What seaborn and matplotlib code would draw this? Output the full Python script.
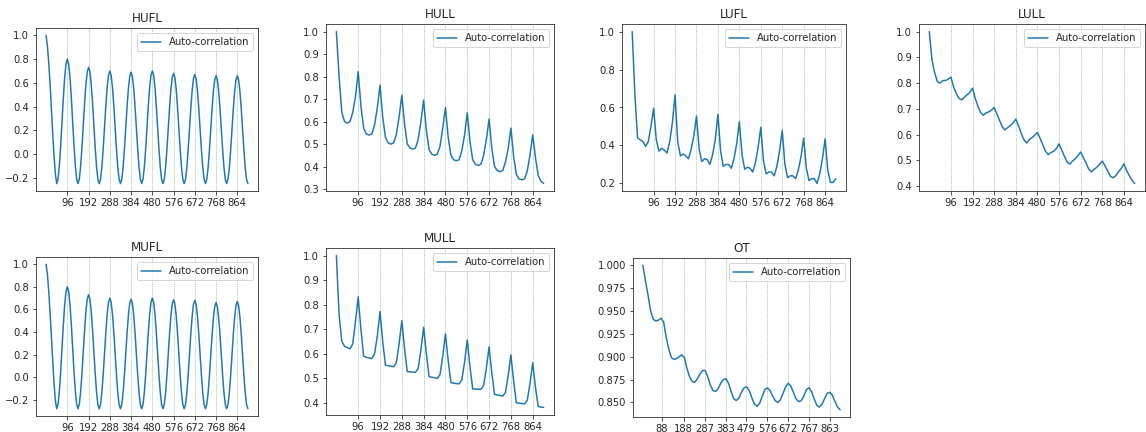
import matplotlib
matplotlib.use("Agg")
import matplotlib.pyplot as plt
from matplotlib.ticker import MultipleLocator
import numpy as np
import seaborn as sns

# auto-correlation values
# HUFL / MUFL: one value every 6 lags (0..912), the rest every 12 lags (0..912)

hufl = [1.00, 0.91, 0.77, 0.59, 0.38, 0.17, -0.02, -0.17, -0.25,
        -0.21, -0.096, 0.074, 0.275, 0.476, 0.646, 0.76, 0.80,
        0.76, 0.646, 0.476, 0.275, 0.074, -0.096, -0.21, -0.25,
        -0.213, -0.106, 0.052, 0.24, 0.428, 0.586, 0.693, 0.73,
        0.693, 0.586, 0.428, 0.24, 0.052, -0.106, -0.213, -0.25,
        -0.214, -0.111, 0.043, 0.225, 0.407, 0.561, 0.664, 0.70,
        0.664, 0.561, 0.407, 0.225, 0.043, -0.111, -0.214, -0.25,
        -0.214, -0.112, 0.04, 0.22, 0.40, 0.552, 0.654, 0.69,
        0.654, 0.552, 0.40, 0.22, 0.04, -0.112, -0.214, -0.25,
        -0.214, -0.111, 0.043, 0.225, 0.407, 0.561, 0.664, 0.70,
        0.664, 0.561, 0.407, 0.225, 0.043, -0.111, -0.214, -0.25,
        -0.215, -0.114, 0.037, 0.215, 0.393, 0.544, 0.645, 0.68,
        0.645, 0.544, 0.393, 0.215, 0.037, -0.114, -0.215, -0.25,
        -0.215, -0.115, 0.034, 0.21, 0.386, 0.535, 0.635, 0.67,
        0.635, 0.535, 0.386, 0.21, 0.034, -0.115, -0.215, -0.25,
        -0.215, -0.117, 0.031, 0.205, 0.379, 0.527, 0.625, 0.66,
        0.625, 0.527, 0.379, 0.205, 0.031, -0.117, -0.215, -0.25,
        -0.215, -0.117, 0.031, 0.205, 0.379, 0.527, 0.625, 0.66,
        0.625, 0.527, 0.379, 0.205, 0.031, -0.117, -0.215, -0.25]

mufl = [1.00, 0.91, 0.76, 0.57, 0.36, 0.14, -0.06, -0.21, -0.28,
        -0.239, -0.122, 0.053, 0.26, 0.467, 0.642, 0.759, 0.80,
        0.759, 0.642, 0.467, 0.26, 0.053, -0.122, -0.239, -0.28,
        -0.242, -0.132, 0.032, 0.225, 0.418, 0.582, 0.692, 0.73,
        0.692, 0.582, 0.418, 0.225, 0.032, -0.132, -0.242, -0.28,
        -0.243, -0.136, 0.022, 0.21, 0.398, 0.556, 0.663, 0.70,
        0.663, 0.556, 0.398, 0.21, 0.022, -0.136, -0.243, -0.28,
        -0.243, -0.138, 0.019, 0.205, 0.391, 0.548, 0.653, 0.69,
        0.653, 0.548, 0.391, 0.205, 0.019, -0.138, -0.243, -0.28,
        -0.243, -0.136, 0.022, 0.21, 0.398, 0.556, 0.663, 0.70,
        0.663, 0.556, 0.398, 0.21, 0.022, -0.136, -0.243, -0.28,
        -0.243, -0.139, 0.018, 0.203, 0.387, 0.544, 0.648, 0.685,
        0.648, 0.544, 0.387, 0.203, 0.018, -0.139, -0.243, -0.28,
        -0.244, -0.139, 0.016, 0.20, 0.384, 0.539, 0.644, 0.68,
        0.644, 0.539, 0.384, 0.20, 0.016, -0.139, -0.244, -0.28,
        -0.244, -0.142, 0.01, 0.19, 0.37, 0.522, 0.624, 0.66,
        0.624, 0.522, 0.37, 0.19, 0.01, -0.142, -0.244, -0.28,
        -0.244, -0.141, 0.013, 0.195, 0.377, 0.531, 0.634, 0.67,
        0.634, 0.531, 0.377, 0.195, 0.013, -0.141, -0.244, -0.28]

hull = [1.00, 0.80, 0.64, 0.60, 0.593, 0.60, 0.64, 0.71,
        0.822, 0.67, 0.57, 0.545, 0.54, 0.545, 0.585, 0.66,
        0.762, 0.62, 0.53, 0.505, 0.50, 0.505, 0.543, 0.62,
        0.717, 0.59, 0.50, 0.482, 0.478, 0.482, 0.52, 0.60,
        0.695, 0.56, 0.475, 0.455, 0.45, 0.455, 0.49, 0.57,
        0.662, 0.53, 0.45, 0.43, 0.426, 0.43, 0.47, 0.54,
        0.639, 0.51, 0.43, 0.41, 0.405, 0.41, 0.45, 0.52,
        0.611, 0.48, 0.40, 0.382, 0.377, 0.382, 0.42, 0.48,
        0.571, 0.445, 0.364, 0.345, 0.341, 0.345, 0.381, 0.451,
        0.541, 0.44, 0.36, 0.335, 0.325]

lufl = [1.00, 0.67, 0.44, 0.43, 0.42, 0.395, 0.42, 0.50,
        0.596, 0.43, 0.37, 0.385, 0.375, 0.36, 0.42, 0.52,
        0.666, 0.42, 0.345, 0.355, 0.345, 0.33, 0.38, 0.45,
        0.555, 0.38, 0.315, 0.33, 0.325, 0.30, 0.35, 0.43,
        0.564, 0.37, 0.29, 0.30, 0.30, 0.28, 0.33, 0.41,
        0.525, 0.35, 0.275, 0.285, 0.28, 0.26, 0.31, 0.39,
        0.496, 0.32, 0.25, 0.26, 0.26, 0.24, 0.29, 0.37,
        0.479, 0.30, 0.23, 0.24, 0.24, 0.225, 0.27, 0.34,
        0.439, 0.28, 0.215, 0.225, 0.225, 0.20, 0.25, 0.33,
        0.434, 0.27, 0.205, 0.205, 0.225]

lull = [1.00, 0.89, 0.84, 0.805, 0.80, 0.81, 0.81, 0.815,
        0.823, 0.785, 0.76, 0.74, 0.735, 0.745, 0.755, 0.763,
        0.78, 0.74, 0.71, 0.685, 0.675, 0.684, 0.688, 0.695,
        0.705, 0.68, 0.655, 0.63, 0.618, 0.627, 0.635, 0.645,
        0.66, 0.635, 0.605, 0.58, 0.567, 0.58, 0.588, 0.597,
        0.608, 0.585, 0.56, 0.535, 0.522, 0.53, 0.535, 0.545,
        0.564, 0.54, 0.515, 0.493, 0.485, 0.497, 0.506, 0.518,
        0.532, 0.51, 0.49, 0.465, 0.455, 0.465, 0.473, 0.485,
        0.497, 0.478, 0.458, 0.438, 0.432, 0.44, 0.455, 0.468,
        0.486, 0.46, 0.44, 0.422, 0.41]

mull = [1.00, 0.76, 0.65, 0.63, 0.625, 0.62, 0.64, 0.73,
        0.831, 0.70, 0.59, 0.585, 0.583, 0.58, 0.60, 0.67,
        0.772, 0.65, 0.553, 0.551, 0.549, 0.547, 0.564, 0.64,
        0.734, 0.62, 0.527, 0.526, 0.525, 0.524, 0.54, 0.615,
        0.708, 0.60, 0.506, 0.504, 0.502, 0.499, 0.515, 0.589,
        0.681, 0.572, 0.482, 0.48, 0.478, 0.477, 0.493, 0.565,
        0.656, 0.546, 0.456, 0.456, 0.455, 0.455, 0.471, 0.541,
        0.628, 0.521, 0.434, 0.432, 0.43, 0.427, 0.442, 0.51,
        0.595, 0.488, 0.40, 0.398, 0.397, 0.395, 0.41, 0.478,
        0.563, 0.463, 0.385, 0.382, 0.381]

ot = [1.000, 0.983, 0.967, 0.950, 0.941, 0.939, 0.940, 0.942,
      0.938, 0.921, 0.908, 0.899, 0.897, 0.898, 0.900, 0.902,
      0.899, 0.887, 0.878, 0.873, 0.872, 0.876, 0.881, 0.885,
      0.885, 0.878, 0.869, 0.863, 0.862, 0.865, 0.871, 0.875,
      0.876, 0.871, 0.862, 0.854, 0.852, 0.855, 0.861, 0.866,
      0.867, 0.863, 0.855, 0.848, 0.846, 0.849, 0.857, 0.864,
      0.866, 0.863, 0.857, 0.852, 0.850, 0.853, 0.860, 0.867,
      0.871, 0.868, 0.861, 0.854, 0.851, 0.852, 0.857, 0.864,
      0.866, 0.862, 0.854, 0.847, 0.845, 0.848, 0.854, 0.860,
      0.861, 0.858, 0.851, 0.845, 0.842]

# peak lags marked with the green lines (also used as x ticks)
daily_peaks = [96, 192, 288, 384, 480, 576, 672, 768, 864]
ot_peaks = [88, 188, 287, 383, 479, 576, 672, 767, 863]

W, H = 1146, 432
# axes boxes in pixels: left, top, right, bottom
layout = {
    "HUFL": (36, 28, 258, 191),
    "HULL": (326, 24, 554, 191),
    "LUFL": (622, 24, 846, 191),
    "LULL": (919, 24, 1145, 191),
    "MUFL": (36, 257, 258, 416),
    "MULL": (326, 248, 554, 415),
    "OT": (633, 258, 850, 417),
}

# name, values, lag step, peaks
panels = [("HUFL", hufl, 6, daily_peaks), ("HULL", hull, 12, daily_peaks),
          ("LUFL", lufl, 12, daily_peaks), ("LULL", lull, 12, daily_peaks),
          ("MUFL", mufl, 6, daily_peaks), ("MULL", mull, 12, daily_peaks),
          ("OT", ot, 12, ot_peaks)]

sns.set_style("ticks")
plt.rcParams["font.family"] = ["DejaVu Sans"]

fig = plt.figure(figsize=(W / 72, H / 72), dpi=72)

for name, values, step, peaks in panels:
    l, t, r, b = layout[name]
    ax = fig.add_axes([l / W, 1 - b / H, (r - l) / W, (b - t) / H])
    lags = np.arange(len(values)) * step
    sns.lineplot(x=lags, y=values, ax=ax, color="#1f77b4", linewidth=1.5,
                 label="Auto-correlation")
    for p in peaks:
        ax.axvline(p, color="green", linestyle=":", linewidth=0.7, alpha=0.7)
    ax.set_xticks(peaks)
    if name in ("HUFL", "MUFL"):
        ax.yaxis.set_major_locator(MultipleLocator(0.2))
    ax.tick_params(labelsize=10)
    ax.set_title(name, fontsize=12)
    ax.legend(loc="upper right", fontsize=10)

fig.savefig("out.png", dpi=72)
